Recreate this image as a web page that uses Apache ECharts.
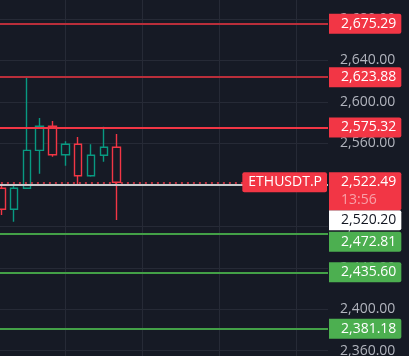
<!DOCTYPE html>
<html>
<head>
<meta charset="utf-8">
<script src="https://cdn.jsdelivr.net/npm/echarts@6/dist/echarts.min.js"></script>
<style>
html,body{margin:0;padding:0;background:#161a25;}
#chart{width:409px;height:356px;}
</style>
</head>
<body>
<div id="chart"></div>
<script>
// ---- data ----
const categories = ['c01','c02','c03','c04','c05','c06','c07','c08','c09','c10','c11','c12','c13','c14','c15','c16','c17','c18','c19','c20','c21','c22','c23','c24','c25','c26'];
// [open, close, low, high]
const candleOpen  = [2516.7, 2496.4, 2516.7, 2553.3, 2576.5, 2549.1, 2559.1, 2528.8, 2548.5, 2556.2];
const candleClose = [2496.4, 2516.7, 2553.3, 2576.5, 2549.1, 2559.1, 2528.8, 2548.5, 2556.2, 2522.49];
const candleLow   = [2490.9, 2484.5, 2516.0, 2530.8, 2547.2, 2538.5, 2520.5, 2527.9, 2542.3, 2486.1];
const candleHigh  = [2519.9, 2520.5, 2625.0, 2584.5, 2581.6, 2562.0, 2566.2, 2559.1, 2576.1, 2569.1];
const resistanceLevels = [2675.29, 2623.88, 2575.32];
const supportLevels = [2472.81, 2435.60, 2381.18];
const lastPrice = 2522.49;
const markPrice = 2520.20;
const countdown = '13:56';
const symbol = 'ETHUSDT.P';
const yMin = 2320, yMax = 2720, yStep = 40;

// ---- build ----
const fmt = v => v.toLocaleString('en-US', {minimumFractionDigits: 2, maximumFractionDigits: 2});
const candleData = categories.map((c, i) => i < candleOpen.length
  ? [candleOpen[i], candleClose[i], candleLow[i], candleHigh[i]] : '-');

const BG = '#161a25', RED = '#f23645', GREEN = '#4caf50', FONT = 'Open Sans';
const boxLabel = (bg, color, text, extra) => Object.assign({
  show: true, position: 'end', distance: 1, formatter: text,
  backgroundColor: bg, color: color, fontFamily: FONT, fontSize: 14, lineHeight: 17,
  padding: [2, 5, 1, 12], borderRadius: [0, 2, 2, 0]
}, extra || {});

const lineColorsRes = ['#b92e3a', '#b92e3a', RED];
const markData = [];
resistanceLevels.forEach((v, i) => markData.push({
  yAxis: v, lineStyle: {color: lineColorsRes[i], width: 2, type: 'solid'},
  label: boxLabel(RED, '#fff', fmt(v))
}));
const supOffsets = [[0, 8], [0, 0], [0, 0]];
supportLevels.forEach((v, i) => markData.push({
  yAxis: v, lineStyle: {color: '#43a047', width: 2, type: 'solid'},
  label: boxLabel(GREEN, '#fff', fmt(v), {offset: supOffsets[i]})
}));
// mark price (white)
markData.push({
  yAxis: markPrice, lineStyle: {color: '#c8c9cc', width: 2, type: 'solid'},
  label: boxLabel('#ffffff', '#131722', fmt(markPrice), {offset: [0, 35.5]})
});
// last price dotted + symbol tag
markData.push({
  yAxis: lastPrice, lineStyle: {color: RED, width: 1.5, type: [2, 4]},
  label: {show: true, position: 'insideEnd', distance: 1, formatter: symbol,
    backgroundColor: RED, color: '#fff', fontFamily: FONT, fontSize: 14, lineHeight: 17,
    padding: [2, 5, 1, 6], borderRadius: 2}
});
markData.push({
  yAxis: lastPrice, lineStyle: {color: 'rgba(0,0,0,0)', width: 0},
  label: boxLabel(RED, '#fff', '{a|' + fmt(lastPrice) + '}\n{b|' + countdown + '}', {
    offset: [0, 9], padding: [1, 5, 1, 12],
    rich: {a: {color: '#fff', fontFamily: FONT, fontSize: 14, lineHeight: 18},
           b: {color: '#f8a0a8', fontFamily: FONT, fontSize: 14, lineHeight: 18}}
  })
});

const chart = echarts.init(document.getElementById('chart'), null, {renderer: 'canvas'});
chart.setOption({
  backgroundColor: BG,
  animation: false,
  grid: {left: -5.1, right: 81, top: -22.5, bottom: -36.2, containLabel: false, outerBoundsMode: 'none'},
  xAxis: {
    type: 'category', data: categories, boundaryGap: true,
    axisLine: {show: false}, axisTick: {show: false}, axisLabel: {show: false},
    splitLine: {show: true, alignWithLabel: true, interval: (i) => i % 6 === 5,
      lineStyle: {color: '#262a36', width: 1}}
  },
  yAxis: {
    type: 'value', position: 'right', min: yMin, max: yMax, interval: yStep, scale: true,
    axisLine: {show: false}, axisTick: {show: false},
    axisLabel: {color: '#b2b5be', fontFamily: FONT, fontSize: 14, margin: 12,
      formatter: v => fmt(v)},
    splitLine: {show: true, lineStyle: {color: '#262a36', width: 1}}
  },
  series: [{
    type: 'candlestick', data: candleData, barWidth: 8,
    itemStyle: {color: BG, color0: BG, borderColor: '#089981', borderColor0: RED, borderWidth: 1.4},
    markLine: {symbol: ['none', 'none'], silent: true, animation: false, data: markData}
  }]
});
</script>
</body>
</html>
